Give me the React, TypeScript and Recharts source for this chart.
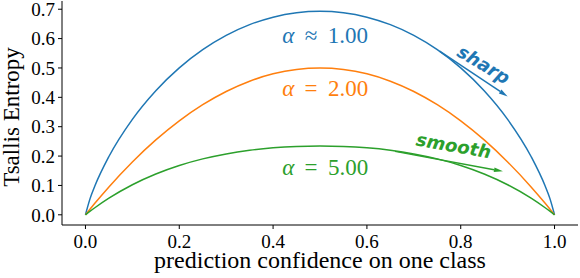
import {
  LineChart,
  Line,
  XAxis,
  YAxis,
  ReferenceArea,
  ReferenceDot,
  ReferenceLine
} from "recharts";

// prediction confidence on one class
const confidence = [
  0, 0.01, 0.02, 0.05, 0.1, 0.15, 0.2, 0.25, 0.3, 0.35, 0.4, 0.45, 0.5,
  0.55, 0.6, 0.65, 0.7, 0.75, 0.8, 0.85, 0.9, 0.95, 0.98, 0.99, 1
];

// alpha ~ 1.00
const entropyA1 = [
  0, 0.056, 0.098, 0.1985, 0.3251, 0.4227, 0.5004, 0.5623, 0.6109, 0.6474, 0.673, 0.6881, 0.6931,
  0.6881, 0.673, 0.6474, 0.6109, 0.5623, 0.5004, 0.4227, 0.3251, 0.1985, 0.098, 0.056, 0
];

// alpha = 2.00
const entropyA2 = [
  0, 0.0198, 0.0392, 0.095, 0.18, 0.255, 0.32, 0.375, 0.42, 0.455, 0.48, 0.495, 0.5,
  0.495, 0.48, 0.455, 0.42, 0.375, 0.32, 0.255, 0.18, 0.095, 0.0392, 0.0198, 0
];

// alpha = 5.00
const entropyA5 = [
  0, 0.01225, 0.024, 0.0566, 0.1024, 0.139, 0.168, 0.1904, 0.2074, 0.2197, 0.228, 0.2328, 0.2344,
  0.2328, 0.228, 0.2197, 0.2074, 0.1904, 0.168, 0.139, 0.1024, 0.0566, 0.024, 0.01225, 0
];

const xTicks = [0, 0.2, 0.4, 0.6, 0.8, 1.0];
const yTicks = [0, 0.1, 0.2, 0.3, 0.4, 0.5, 0.6, 0.7];

const data = confidence.map((c, i) => ({
  c,
  a1: entropyA1[i],
  a2: entropyA2[i],
  a5: entropyA5[i]
}));

const BLUE = "#1f77b4";
const ORANGE = "#ff7f0e";
const GREEN = "#2ca02c";
const SERIF = "Liberation Serif, Times New Roman, serif";

function alphaLabel(color: string, rel: string, val: string) {
  return (p: any) => (
    <text
      x={p.cx}
      y={p.cy}
      textAnchor="middle"
      fill={color}
      style={{ fontFamily: SERIF, fontSize: 23 }}
    >
      <tspan fontStyle="italic">α</tspan>
      <tspan dx="0.45em">{rel}</tspan>
      <tspan dx="0.45em">{val}</tspan>
    </text>
  );
}

function wordLabel(color: string, word: string, angle: number) {
  return (p: any) => (
    <text
      x={p.cx}
      y={p.cy}
      textAnchor="middle"
      dominantBaseline="central"
      fill={color}
      style={{
        fontFamily: "DejaVu Sans, sans-serif",
        fontWeight: "bold",
        fontStyle: "italic",
        fontSize: 18
      }}
      transform={`rotate(${angle}, ${p.cx}, ${p.cy})`}
    >
      {word}
    </text>
  );
}

function arrow(color: string) {
  return (p: any) => {
    const { x1, y1, x2, y2 } = p;
    const dx = x2 - x1;
    const dy = y2 - y1;
    const len = Math.sqrt(dx * dx + dy * dy) || 1;
    const ux = dx / len;
    const uy = dy / len;
    const hl = 9;
    const hw = 2.3;
    const bx = x2 - ux * hl;
    const by = y2 - uy * hl;
    const pts = `${x2},${y2} ${bx - uy * hw},${by + ux * hw} ${bx + uy * hw},${by - ux * hw}`;
    return (
      <g>
        <line x1={x1} y1={y1} x2={bx} y2={by} stroke={color} strokeWidth={1.5} />
        <polygon points={pts} fill={color} />
      </g>
    );
  };
}

export default function App() {
  return (
    <div
      style={{
        position: "absolute",
        left: 0,
        top: 0,
        width: 580,
        height: 278,
        background: "#fff",
        fontFamily: SERIF
      }}
    >
      <LineChart
        width={580}
        height={278}
        data={data}
        margin={{ top: 1, right: 2, left: 0, bottom: 0 }}
      >
        <XAxis
          dataKey="c"
          type="number"
          domain={[-0.05, 1.05]}
          ticks={xTicks}
          interval={0}
          tickFormatter={(v: number) => v.toFixed(1)}
          tick={{ fill: "#000", fontSize: 19, style: { fontFamily: SERIF } }}
          tickSize={4}
          tickMargin={6}
          stroke="#000"
          height={53}
          label={{
            content: (p: any) => {
              const vb = p.viewBox;
              return (
                <text
                  x={vb.x + vb.width / 2}
                  y={vb.y + 43}
                  textAnchor="middle"
                  fill="#000"
                  style={{ fontFamily: SERIF, fontSize: 24 }}
                >
                  prediction confidence on one class
                </text>
              );
            }
          }}
        />
        <YAxis
          type="number"
          domain={[-0.0347, 0.728]}
          ticks={yTicks}
          interval={0}
          tickFormatter={(v: number) => v.toFixed(1)}
          tick={{ fill: "#000", fontSize: 19, style: { fontFamily: SERIF } }}
          tickSize={4}
          tickMargin={3}
          stroke="#000"
          width={62}
          label={{
            content: () => (
              <text
                x={19}
                y={117}
                textAnchor="middle"
                fill="#000"
                style={{ fontFamily: SERIF, fontSize: 23 }}
                transform="rotate(-90, 19, 117)"
              >
                Tsallis Entropy
              </text>
            )
          }}
        />
        <ReferenceArea fill="none" stroke="#222" strokeWidth={1} fillOpacity={0} />
        <Line
          dataKey="a1"
          type="monotone"
          stroke={BLUE}
          strokeWidth={1.5}
          dot={false}
          isAnimationActive={false}
        />
        <Line
          dataKey="a2"
          type="monotone"
          stroke={ORANGE}
          strokeWidth={1.5}
          dot={false}
          isAnimationActive={false}
        />
        <Line
          dataKey="a5"
          type="monotone"
          stroke={GREEN}
          strokeWidth={1.5}
          dot={false}
          isAnimationActive={false}
        />
        <ReferenceDot x={0.511} y={0.584} r={0} shape={alphaLabel(BLUE, "≈", "1.00")} />
        <ReferenceDot x={0.511} y={0.406} r={0} shape={alphaLabel(ORANGE, "=", "2.00")} />
        <ReferenceDot x={0.511} y={0.137} r={0} shape={alphaLabel(GREEN, "=", "5.00")} />
        <ReferenceDot x={0.849} y={0.512} r={0} shape={wordLabel(BLUE, "sharp", 31)} />
        <ReferenceDot x={0.785} y={0.236} r={0} shape={wordLabel(GREEN, "smooth", 10)} />
        <ReferenceLine
          segment={[{ x: 0.755, y: 0.557 }, { x: 0.9, y: 0.403 }]}
          shape={arrow(BLUE)}
        />
        <ReferenceLine
          segment={[{ x: 0.66, y: 0.216 }, { x: 0.89, y: 0.148 }]}
          shape={arrow(GREEN)}
        />
      </LineChart>
    </div>
  );
}
